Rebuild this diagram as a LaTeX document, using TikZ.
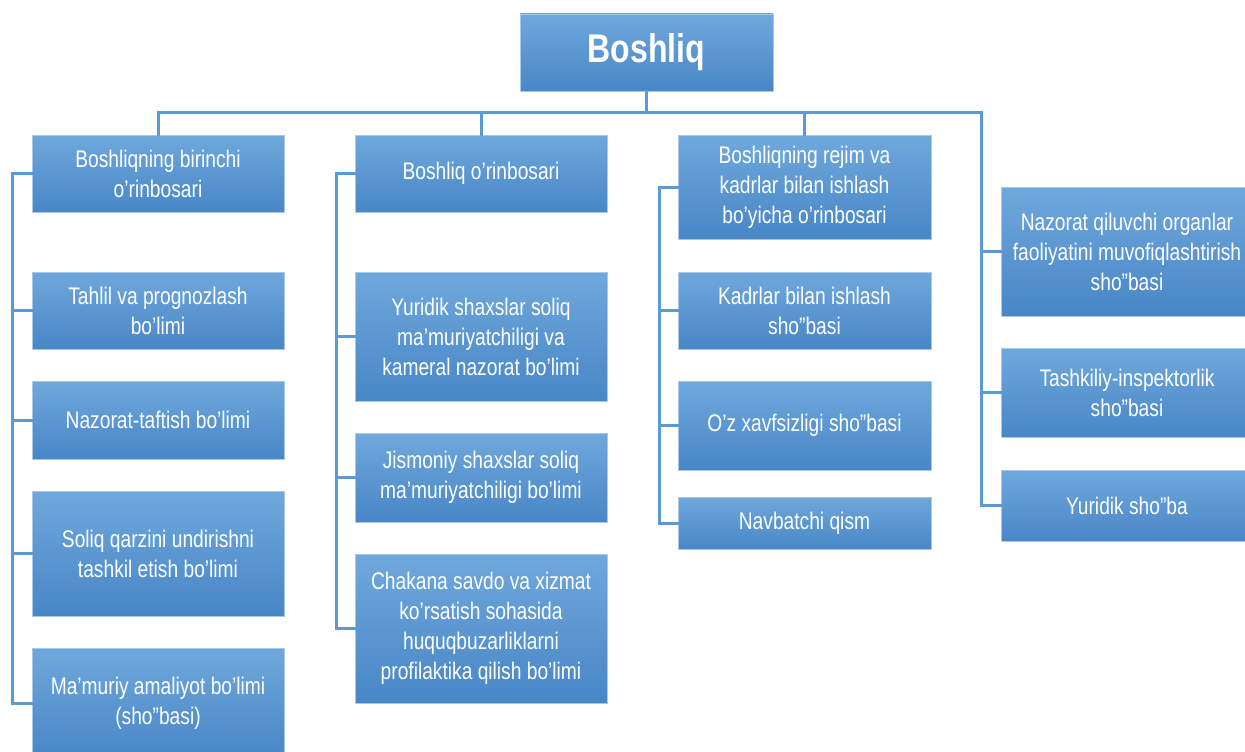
\documentclass[tikz,border=0pt]{standalone}
\usepackage{fontspec}
\setmainfont{Liberation Sans}[FakeStretch=0.8]
\begin{document}
\definecolor{boxtop}{HTML}{6FA8DC}
\definecolor{boxbot}{HTML}{4886C6}
\definecolor{boxedge}{HTML}{A8C8EA}
\definecolor{linkblue}{HTML}{5B9BD5}
\begin{tikzpicture}[x=1pt,y=-1pt,
  unit/.style={draw=boxedge, line width=0.8pt, top color=boxtop, bottom color=boxbot,
    text=white, align=center, inner sep=0pt, minimum width=252,
    font=\fontsize{24}{30}\selectfont},
  conn/.style={draw=linkblue, line width=3pt, line cap=rect}]
\useasboundingbox (0,0) rectangle (1245,752);
\clip (0,0) rectangle (1245,752);

% head of the office
\node[unit, minimum width=253, minimum height=77, font=\fontsize{40}{44}\selectfont\bfseries] (boss) at (646.5,52.5) {Boshliq};

% first deputy and his departments
\node[unit, minimum height=77] (a1) at (158,173.5) {Boshliqning birinchi\\o’rinbosari};
\node[unit, minimum height=77] (a2) at (158,310.5) {Tahlil va prognozlash\\bo’limi};
\node[unit, minimum height=78] (a3) at (158,420) {Nazorat-taftish bo’limi};
\node[unit, minimum height=125] (a4) at (158,553.5) {Soliq qarzini undirishni\\tashkil etish bo’limi};
\node[unit, minimum height=110] (a5) at (158,703) {Ma’muriy amaliyot bo’limi\\(sho”basi)};

% deputy and his departments
\node[unit, minimum height=77] (b1) at (481,173.5) {Boshliq o’rinbosari};
\node[unit, minimum height=129] (b2) at (481,336.5) {Yuridik shaxslar soliq\\ma’muriyatchiligi va\\kameral nazorat bo’limi};
\node[unit, minimum height=89] (b3) at (481,477.5) {Jismoniy shaxslar soliq\\ma’muriyatchiligi bo’limi};
\node[unit, minimum height=149] (b4) at (481,628.5) {Chakana savdo va xizmat\\ko’rsatish sohasida\\huquqbuzarliklarni\\profilaktika qilish bo’limi};

% deputy for regime and staff
\node[unit, minimum width=253, minimum height=104] (c1) at (804.5,187) {Boshliqning rejim va\\kadrlar bilan ishlash\\bo’yicha o’rinbosari};
\node[unit, minimum width=253, minimum height=77] (c2) at (804.5,310.5) {Kadrlar bilan ishlash\\sho”basi};
\node[unit, minimum width=253, minimum height=89] (c3) at (804.5,425.5) {O’z xavfsizligi sho”basi};
\node[unit, minimum width=253, minimum height=52] (c4) at (804.5,523) {Navbatchi qism};

% directly subordinate units
\node[unit, minimum height=129] (d1) at (1127,251.5) {Nazorat qiluvchi organlar\\faoliyatini muvofiqlashtirish\\sho”basi};
\node[unit, minimum height=89] (d2) at (1127,392.5) {Tashkiliy-inspektorlik\\sho”basi};
\node[unit, minimum height=71] (d3) at (1127,505.5) {Yuridik sho”ba};

% spines and the top bus
\coordinate (bus) at (646.5,112);
\coordinate (sa) at (12,0);
\coordinate (sb) at (336,0);
\coordinate (sc) at (659,0);
\coordinate (sd) at (981,112);

\draw[conn] (boss.south) -- (bus);
\draw[conn] (a1.north) |- (sd) |- (d3.west);
\draw[conn] (b1.north) -- (b1.north |- bus);
\draw[conn] (c1.north) -- (c1.north |- bus);

\draw[conn] (a1.west) -- (a1.west -| sa) -- (a5.west -| sa) -- (a5.west);
\foreach \n in {a2,a3,a4} \draw[conn] (\n.west) -- (\n.west -| sa);

\draw[conn] (b1.west) -- (b1.west -| sb) -- (b4.west -| sb) -- (b4.west);
\foreach \n in {b2,b3} \draw[conn] (\n.west) -- (\n.west -| sb);

\draw[conn] (c1.west) -- (c1.west -| sc) -- (c4.west -| sc) -- (c4.west);
\foreach \n in {c2,c3} \draw[conn] (\n.west) -- (\n.west -| sc);

\foreach \n in {d1,d2} \draw[conn] (\n.west) -- (\n.west -| sd);
\end{tikzpicture}
\end{document}
